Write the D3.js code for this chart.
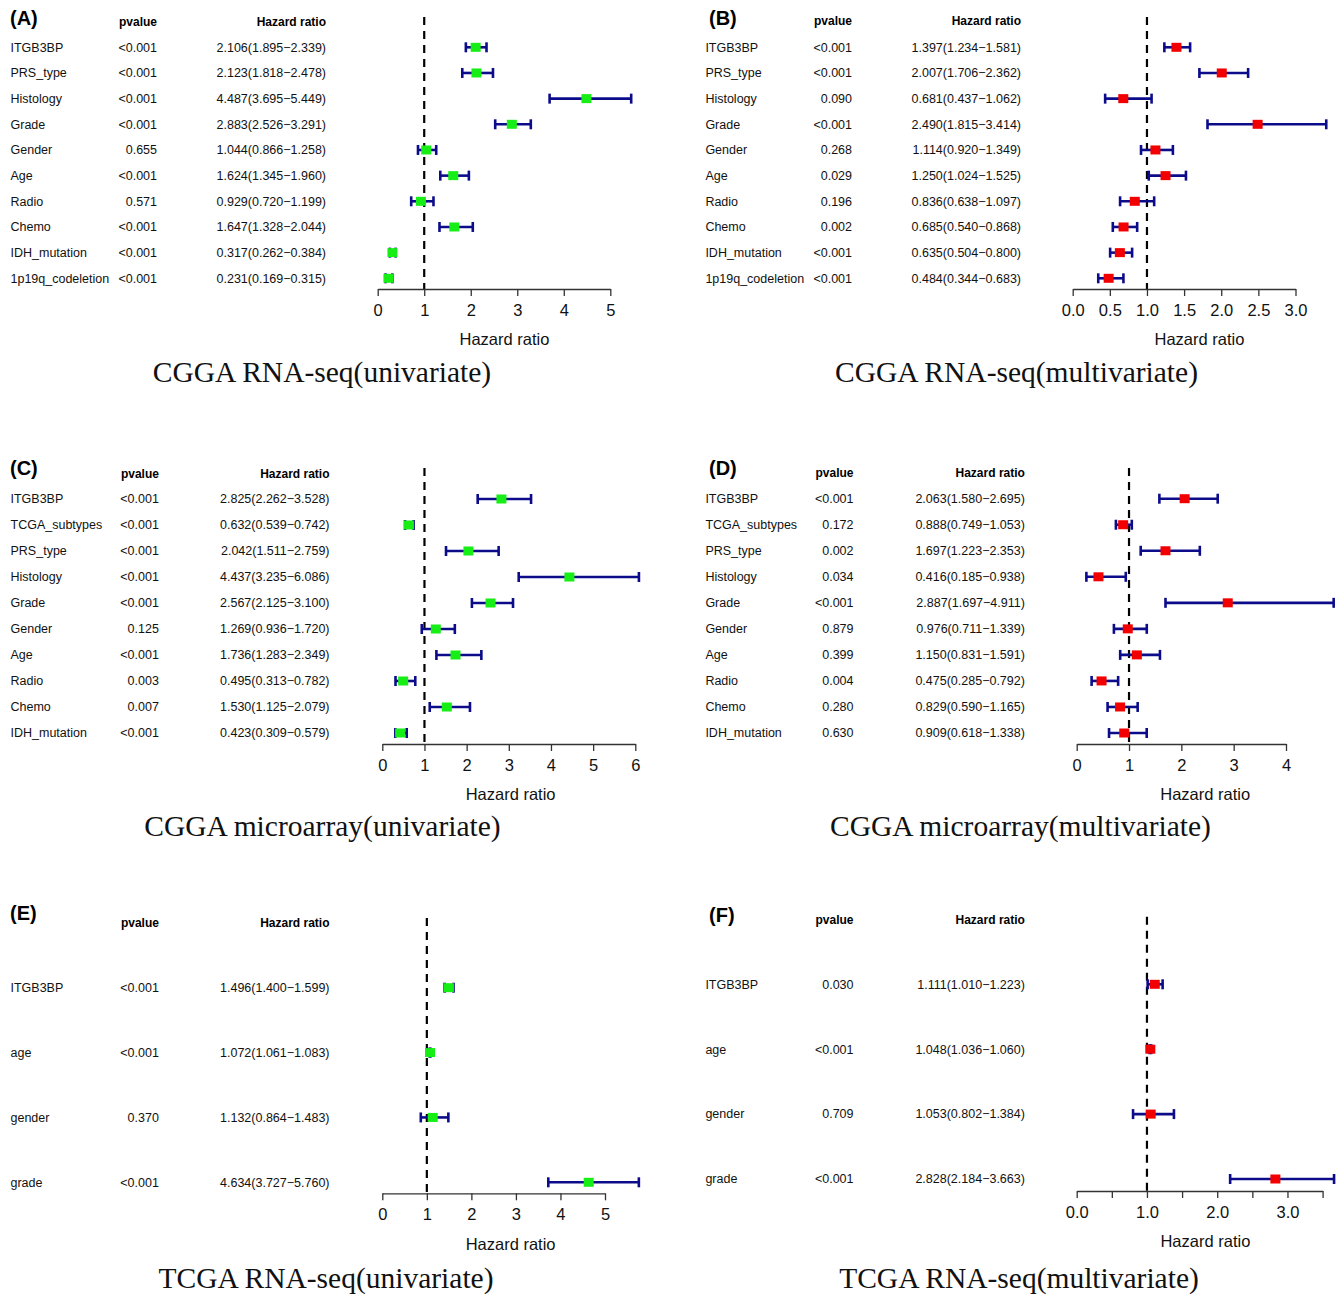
<!DOCTYPE html>
<html>
<head>
<meta charset="utf-8">
<script src="https://cdn.jsdelivr.net/npm/d3@7"></script>
<style>
  html, body { margin: 0; padding: 0; background: #fff; }
  svg { display: block; }
  .sans { font-family: "Liberation Sans", Arial, Helvetica, sans-serif; }
  .serif { font-family: "Liberation Serif", "Times New Roman", serif; }
</style>
</head>
<body>
<svg id="chart" width="1343" height="1295"></svg>
<script>
// ---- Cox regression results, one set of arrays per cohort/model ----

// CGGA RNA-seq, univariate
const aLabels = ["ITGB3BP", "PRS_type", "Histology", "Grade", "Gender", "Age", "Radio", "Chemo", "IDH_mutation", "1p19q_codeletion"];
const aP  = ["<0.001", "<0.001", "<0.001", "<0.001", "0.655", "<0.001", "0.571", "<0.001", "<0.001", "<0.001"];
const aHR = [2.106, 2.123, 4.487, 2.883, 1.044, 1.624, 0.929, 1.647, 0.317, 0.231];
const aLo = [1.895, 1.818, 3.695, 2.526, 0.866, 1.345, 0.720, 1.328, 0.262, 0.169];
const aHi = [2.339, 2.478, 5.449, 3.291, 1.258, 1.960, 1.199, 2.044, 0.384, 0.315];
const aTicks = [0, 1, 2, 3, 4, 5];
const aTickLabels = ["0", "1", "2", "3", "4", "5"];

// CGGA RNA-seq, multivariate
const bLabels = ["ITGB3BP", "PRS_type", "Histology", "Grade", "Gender", "Age", "Radio", "Chemo", "IDH_mutation", "1p19q_codeletion"];
const bP  = ["<0.001", "<0.001", "0.090", "<0.001", "0.268", "0.029", "0.196", "0.002", "<0.001", "<0.001"];
const bHR = [1.397, 2.007, 0.681, 2.490, 1.114, 1.250, 0.836, 0.685, 0.635, 0.484];
const bLo = [1.234, 1.706, 0.437, 1.815, 0.920, 1.024, 0.638, 0.540, 0.504, 0.344];
const bHi = [1.581, 2.362, 1.062, 3.414, 1.349, 1.525, 1.097, 0.868, 0.800, 0.683];
const bTicks = [0, 0.5, 1, 1.5, 2, 2.5, 3];
const bTickLabels = ["0.0", "0.5", "1.0", "1.5", "2.0", "2.5", "3.0"];

// CGGA microarray, univariate
const cLabels = ["ITGB3BP", "TCGA_subtypes", "PRS_type", "Histology", "Grade", "Gender", "Age", "Radio", "Chemo", "IDH_mutation"];
const cP  = ["<0.001", "<0.001", "<0.001", "<0.001", "<0.001", "0.125", "<0.001", "0.003", "0.007", "<0.001"];
const cHR = [2.825, 0.632, 2.042, 4.437, 2.567, 1.269, 1.736, 0.495, 1.530, 0.423];
const cLo = [2.262, 0.539, 1.511, 3.235, 2.125, 0.936, 1.283, 0.313, 1.125, 0.309];
const cHi = [3.528, 0.742, 2.759, 6.086, 3.100, 1.720, 2.349, 0.782, 2.079, 0.579];
const cTicks = [0, 1, 2, 3, 4, 5, 6];
const cTickLabels = ["0", "1", "2", "3", "4", "5", "6"];

// CGGA microarray, multivariate
const dLabels = ["ITGB3BP", "TCGA_subtypes", "PRS_type", "Histology", "Grade", "Gender", "Age", "Radio", "Chemo", "IDH_mutation"];
const dP  = ["<0.001", "0.172", "0.002", "0.034", "<0.001", "0.879", "0.399", "0.004", "0.280", "0.630"];
const dHR = [2.063, 0.888, 1.697, 0.416, 2.887, 0.976, 1.150, 0.475, 0.829, 0.909];
const dLo = [1.580, 0.749, 1.223, 0.185, 1.697, 0.711, 0.831, 0.285, 0.590, 0.618];
const dHi = [2.695, 1.053, 2.353, 0.938, 4.911, 1.339, 1.591, 0.792, 1.165, 1.338];
const dTicks = [0, 1, 2, 3, 4];
const dTickLabels = ["0", "1", "2", "3", "4"];

// TCGA RNA-seq, univariate
const eLabels = ["ITGB3BP", "age", "gender", "grade"];
const eP  = ["<0.001", "<0.001", "0.370", "<0.001"];
const eHR = [1.496, 1.072, 1.132, 4.634];
const eLo = [1.400, 1.061, 0.864, 3.727];
const eHi = [1.599, 1.083, 1.483, 5.760];
const eTicks = [0, 1, 2, 3, 4, 5];
const eTickLabels = ["0", "1", "2", "3", "4", "5"];

// TCGA RNA-seq, multivariate
const fLabels = ["ITGB3BP", "age", "gender", "grade"];
const fP  = ["0.030", "<0.001", "0.709", "<0.001"];
const fHR = [1.111, 1.048, 1.053, 2.828];
const fLo = [1.010, 1.036, 0.802, 2.184];
const fHi = [1.223, 1.060, 1.384, 3.663];
const fTicks = [0, 0.5, 1, 1.5, 2, 2.5, 3, 3.5];
const fTickLabels = ["0.0", "", "1.0", "", "2.0", "", "3.0", ""];

const panelTags = ["(A)", "(B)", "(C)", "(D)", "(E)", "(F)"];
const panelTitles = [
  "CGGA RNA-seq(univariate)", "CGGA RNA-seq(multivariate)",
  "CGGA microarray(univariate)", "CGGA microarray(multivariate)",
  "TCGA RNA-seq(univariate)", "TCGA RNA-seq(multivariate)"
];

// ---- styling ----
const GREEN = "#16ee16";
const RED = "#f20000";
const CI_COL = "#0c0c8a";
const BOX_W = 10, BOX_H = 9, CAP_H = 10;

// ---- layout of each panel (pixel geometry) ----
const layout = [
  { tagX: 10, tagY: 18, labX: 10.5, pX: 157, hrX: 326, headY: 21.7, rowY: [47.3, 278.3],
    xr: [377.7, 610.3], axisY: 289, dashTop: 17, titleX: 322, titleY: 372, fill: GREEN },
  { tagX: 709, tagY: 18, labX: 705.4, pX: 852, hrX: 1021, headY: 20.7, rowY: [47.3, 278.3],
    xr: [1072.7, 1295.5], axisY: 289, dashTop: 17, titleX: 1016.5, titleY: 372, fill: RED },
  { tagX: 10, tagY: 468, labX: 10.5, pX: 158.9, hrX: 329.5, headY: 473.3, rowY: [499, 733],
    xr: [382.3, 635.3], axisY: 744, dashTop: 468, titleX: 322.5, titleY: 826, fill: GREEN },
  { tagX: 709, tagY: 468, labX: 705.4, pX: 853.5, hrX: 1024.9, headY: 473, rowY: [498.7, 733],
    xr: [1076.7, 1286], axisY: 744, dashTop: 468, titleX: 1020.5, titleY: 826, fill: RED },
  { tagX: 10, tagY: 913, labX: 10.5, pX: 158.9, hrX: 329.5, headY: 922.7, rowY: [987.7, 1182.3],
    xr: [382.3, 605], axisY: 1193.3, dashTop: 918, titleX: 326, titleY: 1278, fill: GREEN },
  { tagX: 709, tagY: 915, labX: 705.4, pX: 853.5, hrX: 1024.9, headY: 920, rowY: [984.3, 1179],
    xr: [1076.7, 1322.6], axisY: 1191, dashTop: 916.7, titleX: 1019, titleY: 1278, fill: RED }
];

const series = [
  { labels: aLabels, p: aP, hr: aHR, lo: aLo, hi: aHi, ticks: aTicks, tickLabels: aTickLabels },
  { labels: bLabels, p: bP, hr: bHR, lo: bLo, hi: bHi, ticks: bTicks, tickLabels: bTickLabels },
  { labels: cLabels, p: cP, hr: cHR, lo: cLo, hi: cHi, ticks: cTicks, tickLabels: cTickLabels },
  { labels: dLabels, p: dP, hr: dHR, lo: dLo, hi: dHi, ticks: dTicks, tickLabels: dTickLabels },
  { labels: eLabels, p: eP, hr: eHR, lo: eLo, hi: eHi, ticks: eTicks, tickLabels: eTickLabels },
  { labels: fLabels, p: fP, hr: fHR, lo: fLo, hi: fHi, ticks: fTicks, tickLabels: fTickLabels }
];

const svg = d3.select("#chart");
const fmt = d3.format(".3f");

series.forEach((s, i) => {
  const L = layout[i];
  const g = svg.append("g");
  const ticks = s.ticks;

  const x = d3.scaleLinear()
    .domain([ticks[0], ticks[ticks.length - 1]])
    .range(L.xr);
  const y = d3.scalePoint()
    .domain(s.labels)
    .range(L.rowY);

  const rows = s.labels.map((lab, k) => ({
    lab, p: s.p[k], hr: s.hr[k], lo: s.lo[k], hi: s.hi[k]
  }));

  // panel tag
  g.append("text").attr("class", "sans")
    .attr("x", L.tagX).attr("y", L.tagY).attr("dy", "0.36em")
    .attr("font-size", 20).attr("font-weight", "bold")
    .text(panelTags[i]);

  // column headers
  g.append("text").attr("class", "sans")
    .attr("x", L.pX).attr("y", L.headY).attr("dy", "0.35em")
    .attr("text-anchor", "end").attr("font-size", 12).attr("font-weight", "bold")
    .text("pvalue");
  g.append("text").attr("class", "sans")
    .attr("x", L.hrX).attr("y", L.headY).attr("dy", "0.35em")
    .attr("text-anchor", "end").attr("font-size", 12).attr("font-weight", "bold")
    .text("Hazard ratio");

  // table text
  const row = g.selectAll("g.row").data(rows).join("g").attr("class", "row sans")
    .attr("font-size", 12.5).attr("fill", "#111");
  row.append("text").attr("x", L.labX).attr("y", d => y(d.lab)).attr("dy", "0.35em")
    .text(d => d.lab);
  row.append("text").attr("x", L.pX).attr("y", d => y(d.lab)).attr("dy", "0.35em")
    .attr("text-anchor", "end").text(d => d.p);
  row.append("text").attr("x", L.hrX).attr("y", d => y(d.lab)).attr("dy", "0.35em")
    .attr("text-anchor", "end")
    .text(d => `${fmt(d.hr)}(${fmt(d.lo)}\u2212${fmt(d.hi)})`);

  // reference line at HR = 1
  g.append("line")
    .attr("x1", x(1)).attr("x2", x(1))
    .attr("y1", L.dashTop).attr("y2", L.axisY)
    .attr("stroke", "#000").attr("stroke-width", 2.2)
    .attr("stroke-dasharray", "8,6");

  // confidence intervals with end caps
  const ci = g.selectAll("g.ci").data(rows).join("g").attr("class", "ci")
    .attr("stroke", CI_COL).attr("stroke-width", 2.6).attr("fill", "none");
  ci.append("line")
    .attr("x1", d => x(d.lo)).attr("x2", d => x(d.hi))
    .attr("y1", d => y(d.lab)).attr("y2", d => y(d.lab));
  ci.append("line")
    .attr("x1", d => x(d.lo)).attr("x2", d => x(d.lo))
    .attr("y1", d => y(d.lab) - CAP_H / 2).attr("y2", d => y(d.lab) + CAP_H / 2);
  ci.append("line")
    .attr("x1", d => x(d.hi)).attr("x2", d => x(d.hi))
    .attr("y1", d => y(d.lab) - CAP_H / 2).attr("y2", d => y(d.lab) + CAP_H / 2);

  // point estimates
  g.selectAll("rect.hr").data(rows).join("rect").attr("class", "hr")
    .attr("x", d => x(d.hr) - BOX_W / 2).attr("y", d => y(d.lab) - BOX_H / 2)
    .attr("width", BOX_W).attr("height", BOX_H)
    .attr("fill", L.fill);

  // x axis
  const axis = d3.axisBottom(x)
    .tickValues(ticks)
    .tickFormat((d, k) => s.tickLabels[k])
    .tickSize(7).tickSizeOuter(0).tickPadding(8);
  const ax = g.append("g")
    .attr("transform", `translate(0,${L.axisY})`)
    .call(axis);
  ax.select(".domain").attr("stroke", "#333").attr("stroke-width", 1.3);
  ax.selectAll(".tick line").attr("stroke", "#333").attr("stroke-width", 1.3);
  ax.selectAll(".tick text")
    .attr("font-family", "Liberation Sans, Arial, sans-serif")
    .attr("font-size", 16.5).attr("fill", "#111");

  // axis title, centred on the plotted span
  const span = [x(0), x(d3.max(s.hi))];
  g.append("text").attr("class", "sans")
    .attr("x", (span[0] + span[1]) / 2).attr("y", L.axisY + 50.5).attr("dy", "0.35em")
    .attr("text-anchor", "middle").attr("font-size", 16.5).attr("fill", "#111")
    .text("Hazard ratio");

  // panel caption
  g.append("text").attr("class", "serif")
    .attr("x", L.titleX).attr("y", L.titleY).attr("dy", "0.33em")
    .attr("text-anchor", "middle").attr("font-size", 29.5).attr("fill", "#111")
    .text(panelTitles[i]);
});
</script>
</body>
</html>
